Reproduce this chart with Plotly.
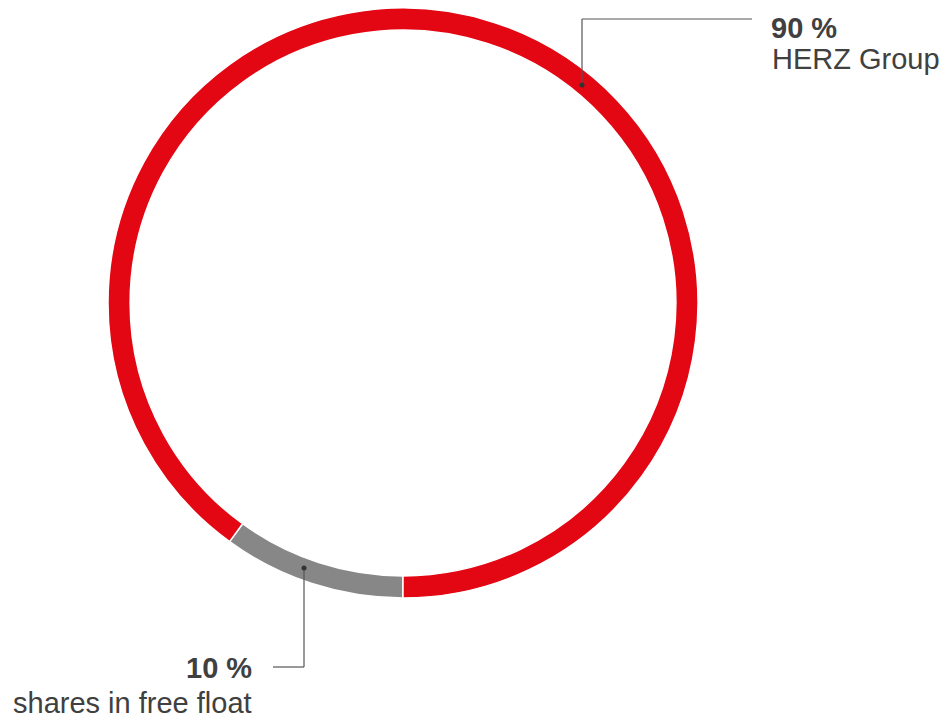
import plotly.graph_objects as go

labels = ["shares in free float", "HERZ Group"]
values = [10, 90]
pct_labels = ["10 %", "90 %"]
colors = ["#878787", "#E30613"]

W, H = 951, 719
OFF = 8  # default page body margin
cx, cy, R = 403, 303, 295

def px(x):
    return (x - OFF) / W

def py(y):
    return 1 - (y - OFF) / H

fig = go.Figure(go.Pie(
    labels=labels, values=values, sort=False, direction="clockwise", rotation=180,
    hole=0.925, marker=dict(colors=colors, line=dict(color="white", width=1.5)),
    textinfo="none", hoverinfo="label+percent", showlegend=False,
    domain=dict(x=[px(cx - R), px(cx + R)], y=[py(cy + R), py(cy - R)]),
))

line_col = "#555555"
txt_col = "#404040"
font = "Liberation Sans, Arial, sans-serif"

shapes = []
shapes.append(dict(type="line", xref="paper", yref="paper", x0=px(582), y0=py(85), x1=px(582), y1=py(19),
                   line=dict(color=line_col, width=1.2)))
shapes.append(dict(type="line", xref="paper", yref="paper", x0=px(582), y0=py(19), x1=px(752), y1=py(19),
                   line=dict(color=line_col, width=1.2)))
shapes.append(dict(type="line", xref="paper", yref="paper", x0=px(304), y0=py(568), x1=px(304), y1=py(667),
                   line=dict(color=line_col, width=1.2)))
shapes.append(dict(type="line", xref="paper", yref="paper", x0=px(304), y0=py(667), x1=px(273), y1=py(667),
                   line=dict(color=line_col, width=1.2)))
for (dx, dy) in [(582, 85), (304, 568)]:
    shapes.append(dict(type="circle", xref="paper", yref="paper",
                       x0=px(dx - 2.5), x1=px(dx + 2.5), y0=py(dy + 2.5), y1=py(dy - 2.5),
                       fillcolor="#333333", line=dict(width=0)))

fs = 29
annotations = [
    dict(text="<b>" + pct_labels[1] + "</b>", x=px(770), y=py(11), xref="paper", yref="paper",
         xanchor="left", yanchor="top", showarrow=False, borderpad=0,
         font=dict(size=fs, color=txt_col, family=font)),
    dict(text=labels[1], x=px(770), y=py(59), xref="paper", yref="paper",
         xanchor="left", yanchor="middle", showarrow=False, font=dict(size=fs, color=txt_col, family=font)),
    dict(text="<b>" + pct_labels[0] + "</b>", x=px(254), y=py(668), xref="paper", yref="paper",
         xanchor="right", yanchor="middle", showarrow=False, font=dict(size=fs, color=txt_col, family=font)),
    dict(text=labels[0], x=px(254), y=py(703), xref="paper", yref="paper",
         xanchor="right", yanchor="middle", showarrow=False, font=dict(size=fs, color=txt_col, family=font)),
]

fig.update_layout(
    width=W, height=H, margin=dict(l=0, r=0, t=0, b=0),
    paper_bgcolor="white", plot_bgcolor="white",
    shapes=shapes, annotations=annotations,
)

fig.write_html("out.html")
